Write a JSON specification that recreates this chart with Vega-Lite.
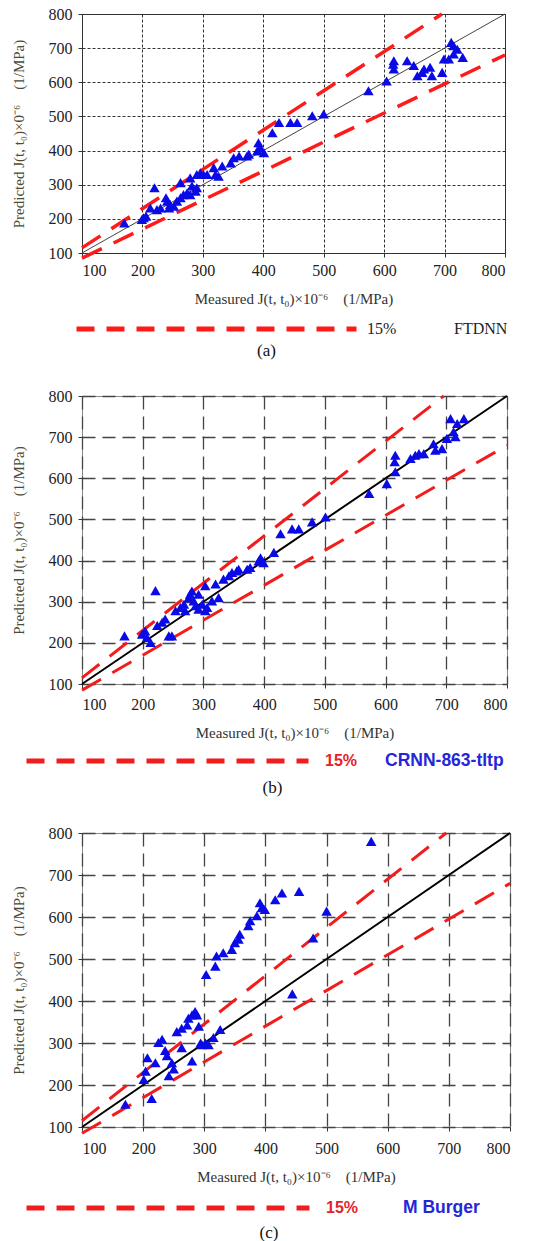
{
  "$schema": "https://vega.github.io/schema/vega-lite/v6.json",
  "background": "white",
  "padding": {"left": 10, "top": 5, "right": 5, "bottom": 5},
  "spacing": 27,
  "resolve": {"scale": {"color": "independent", "x": "independent", "y": "independent"}, "legend": {"color": "independent"}},
  "datasets": {
    "identity": [{"x": 100, "y": 100}, {"x": 800, "y": 800}],
    "band": [
      {"x": 100, "y": 115, "band": "upper", "label": "15%"},
      {"x": 695.65, "y": 800, "band": "upper", "label": "15%"},
      {"x": 100, "y": 85, "band": "lower", "label": "15%"},
      {"x": 800, "y": 680, "band": "lower", "label": "15%"}
    ],
    "a": [
      {"x": 170, "y": 188}, {"x": 199, "y": 198}, {"x": 202, "y": 203}, {"x": 206, "y": 208},
      {"x": 213, "y": 232}, {"x": 220, "y": 291}, {"x": 224, "y": 227}, {"x": 230, "y": 232},
      {"x": 239, "y": 262}, {"x": 241, "y": 252}, {"x": 246, "y": 242}, {"x": 252, "y": 237},
      {"x": 244, "y": 232}, {"x": 257, "y": 252}, {"x": 263, "y": 262}, {"x": 263, "y": 306},
      {"x": 268, "y": 271}, {"x": 274, "y": 276}, {"x": 279, "y": 271}, {"x": 282, "y": 296},
      {"x": 279, "y": 320}, {"x": 290, "y": 330}, {"x": 296, "y": 335}, {"x": 290, "y": 291},
      {"x": 288, "y": 281}, {"x": 301, "y": 330}, {"x": 307, "y": 330}, {"x": 318, "y": 350},
      {"x": 321, "y": 330}, {"x": 326, "y": 325}, {"x": 332, "y": 355}, {"x": 346, "y": 364},
      {"x": 351, "y": 379}, {"x": 360, "y": 384}, {"x": 373, "y": 384}, {"x": 376, "y": 389},
      {"x": 390, "y": 399}, {"x": 392, "y": 423}, {"x": 395, "y": 408}, {"x": 401, "y": 394},
      {"x": 415, "y": 452}, {"x": 426, "y": 482}, {"x": 445, "y": 482}, {"x": 456, "y": 482},
      {"x": 481, "y": 502}, {"x": 500, "y": 507}, {"x": 574, "y": 575}, {"x": 604, "y": 604},
      {"x": 616, "y": 663}, {"x": 616, "y": 639}, {"x": 615, "y": 653}, {"x": 638, "y": 663},
      {"x": 649, "y": 649}, {"x": 655, "y": 619}, {"x": 663, "y": 629}, {"x": 666, "y": 639},
      {"x": 676, "y": 644}, {"x": 679, "y": 619}, {"x": 696, "y": 629}, {"x": 699, "y": 668},
      {"x": 707, "y": 668}, {"x": 711, "y": 717}, {"x": 715, "y": 707}, {"x": 715, "y": 683},
      {"x": 721, "y": 697}, {"x": 730, "y": 673}
    ],
    "b": [
      {"x": 170, "y": 217}, {"x": 199, "y": 221}, {"x": 204, "y": 229}, {"x": 207, "y": 213},
      {"x": 213, "y": 201}, {"x": 221, "y": 327}, {"x": 224, "y": 242}, {"x": 232, "y": 250},
      {"x": 237, "y": 258}, {"x": 243, "y": 217}, {"x": 248, "y": 217}, {"x": 254, "y": 278},
      {"x": 262, "y": 286}, {"x": 268, "y": 294}, {"x": 270, "y": 278}, {"x": 276, "y": 310},
      {"x": 278, "y": 318}, {"x": 281, "y": 326}, {"x": 284, "y": 302}, {"x": 287, "y": 290},
      {"x": 292, "y": 318}, {"x": 292, "y": 282}, {"x": 298, "y": 294}, {"x": 303, "y": 278},
      {"x": 306, "y": 286}, {"x": 303, "y": 339}, {"x": 314, "y": 302}, {"x": 320, "y": 343},
      {"x": 325, "y": 310}, {"x": 333, "y": 355}, {"x": 342, "y": 363}, {"x": 347, "y": 371},
      {"x": 355, "y": 375}, {"x": 358, "y": 379}, {"x": 372, "y": 379}, {"x": 377, "y": 383},
      {"x": 391, "y": 399}, {"x": 394, "y": 407}, {"x": 399, "y": 395}, {"x": 416, "y": 420},
      {"x": 427, "y": 465}, {"x": 446, "y": 477}, {"x": 457, "y": 477}, {"x": 479, "y": 494},
      {"x": 501, "y": 506}, {"x": 573, "y": 563}, {"x": 602, "y": 587}, {"x": 616, "y": 656},
      {"x": 615, "y": 640}, {"x": 616, "y": 616}, {"x": 641, "y": 648}, {"x": 649, "y": 656},
      {"x": 655, "y": 660}, {"x": 663, "y": 660}, {"x": 679, "y": 684}, {"x": 682, "y": 668},
      {"x": 693, "y": 672}, {"x": 701, "y": 697}, {"x": 707, "y": 745}, {"x": 712, "y": 713},
      {"x": 715, "y": 701}, {"x": 718, "y": 733}, {"x": 729, "y": 745}
    ],
    "c": [
      {"x": 171, "y": 154}, {"x": 201, "y": 213}, {"x": 204, "y": 233}, {"x": 207, "y": 265},
      {"x": 214, "y": 168}, {"x": 220, "y": 253}, {"x": 225, "y": 301}, {"x": 231, "y": 309},
      {"x": 239, "y": 270}, {"x": 236, "y": 282}, {"x": 242, "y": 222}, {"x": 250, "y": 238},
      {"x": 247, "y": 253}, {"x": 255, "y": 327}, {"x": 263, "y": 335}, {"x": 263, "y": 289},
      {"x": 272, "y": 343}, {"x": 274, "y": 359}, {"x": 280, "y": 367}, {"x": 285, "y": 375},
      {"x": 288, "y": 367}, {"x": 280, "y": 257}, {"x": 291, "y": 340}, {"x": 294, "y": 300},
      {"x": 296, "y": 296}, {"x": 302, "y": 300}, {"x": 307, "y": 296}, {"x": 315, "y": 313},
      {"x": 326, "y": 332}, {"x": 303, "y": 463}, {"x": 318, "y": 483}, {"x": 320, "y": 507},
      {"x": 331, "y": 515}, {"x": 345, "y": 523}, {"x": 350, "y": 539}, {"x": 356, "y": 547},
      {"x": 358, "y": 559}, {"x": 372, "y": 579}, {"x": 375, "y": 591}, {"x": 386, "y": 603},
      {"x": 391, "y": 634}, {"x": 394, "y": 622}, {"x": 399, "y": 618}, {"x": 416, "y": 641},
      {"x": 427, "y": 657}, {"x": 444, "y": 417}, {"x": 455, "y": 661}, {"x": 478, "y": 550},
      {"x": 500, "y": 614}, {"x": 573, "y": 780}
    ]
  },
  "config": {
    "font": "Liberation Serif",
    "axis": {
      "labelFont": "Liberation Serif", "labelFontSize": 16, "labelColor": "#222",
      "titleFont": "Liberation Serif", "titleFontSize": 15, "titleFontWeight": "normal",
      "domain": false, "tickColor": "#333", "tickSize": 4,
      "gridOpacity": 1
    },
    "title": {"font": "Liberation Serif", "fontSize": 17, "fontWeight": "normal", "color": "#111"}
  },
  "vconcat": [
    {
      "width": 423, "height": 239,
      "title": {"text": "(a)", "orient": "bottom", "dx": -27, "offset": 6},
      "view": {"stroke": "#333", "strokeWidth": 1},
      "encoding": {
        "x": {"field": "x", "type": "quantitative",
          "scale": {"domain": [100, 800], "nice": false, "zero": false},
          "axis": {"values": [100, 200, 300, 400, 500, 600, 700, 800], "grid": true, "gridColor": "#333", "gridDash": [3, 2], "gridWidth": 1,
            "labelPadding": 5,
            "title": "Measured J(t, t₀)×10⁻⁶\u00a0\u00a0\u00a0\u00a0(1/MPa)", "titleColor": "#333", "titlePadding": 13}},
        "y": {"field": "y", "type": "quantitative",
          "scale": {"domain": [100, 800], "nice": false, "zero": false},
          "axis": {"values": [100, 200, 300, 400, 500, 600, 700, 800], "grid": true, "gridColor": "#333", "gridDash": [3, 2], "gridWidth": 1,
            "labelPadding": 6,
            "title": "Predicted J(t, t₀)×0⁻⁶\u00a0\u00a0\u00a0\u00a0(1/MPa)", "titleColor": "#4d4a35", "titlePadding": 22}}
      },
      "layer": [
        {"data": {"name": "identity"}, "mark": {"type": "line", "color": "#444", "strokeWidth": 1}, "encoding": {}},
        {"data": {"name": "band"}, "mark": {"type": "line", "strokeWidth": 3.5, "strokeDash": [22, 13]},
          "encoding": {
            "detail": {"field": "band"},
            "color": {"field": "label", "type": "nominal", "scale": {"domain": ["15%"], "range": ["#ff1a1a"]},
              "legend": {"orient": "none", "legendX": -8, "legendY": 307, "title": "FTDNN", "titleOrient": "right", "direction": "horizontal",
                "symbolType": "stroke", "symbolSize": 78400, "symbolStrokeWidth": 5, "symbolDash": [18, 12], "clipHeight": 16,
                "labelFont": "Liberation Serif", "labelFontSize": 16, "labelFontWeight": "normal", "labelColor": "#222", "labelOffset": 8,
                "titleFont": "Liberation Serif", "titleFontSize": 16, "titleFontWeight": "normal", "titleColor": "#222", "titlePadding": 58, "titleBaseline": "middle"}}
          }},
        {"data": {"name": "a"}, "mark": {"type": "point", "shape": "triangle-up", "filled": true, "size": 110, "color": "#0a0ae6", "opacity": 1}, "encoding": {}}
      ]
    },
    {
      "width": 425, "height": 288,
      "title": {"text": "(b)", "orient": "bottom", "dx": -22, "offset": 10},
      "view": {"stroke": "#888", "strokeWidth": 1},
      "encoding": {
        "x": {"field": "x", "type": "quantitative",
          "scale": {"domain": [100, 800], "nice": false, "zero": false},
          "axis": {"values": [100, 200, 300, 400, 500, 600, 700, 800], "grid": true, "gridColor": "#444", "gridDash": [13, 7], "gridWidth": 1.3,
            "labelPadding": 8,
            "title": "Measured J(t, t₀)×10⁻⁶\u00a0\u00a0\u00a0\u00a0(1/MPa)", "titleColor": "#333", "titlePadding": 13}},
        "y": {"field": "y", "type": "quantitative",
          "scale": {"domain": [100, 800], "nice": false, "zero": false},
          "axis": {"values": [100, 200, 300, 400, 500, 600, 700, 800], "grid": true, "gridColor": "#444", "gridDash": [13, 7], "gridWidth": 1.3,
            "labelPadding": 6,
            "title": "Predicted J(t, t₀)×0⁻⁶\u00a0\u00a0\u00a0\u00a0(1/MPa)", "titleColor": "#4d4a35", "titlePadding": 22}}
      },
      "layer": [
        {"data": {"name": "identity"}, "mark": {"type": "line", "color": "#000", "strokeWidth": 2}, "encoding": {}},
        {"data": {"name": "band"}, "mark": {"type": "line", "strokeWidth": 3, "strokeDash": [22, 13]},
          "encoding": {
            "detail": {"field": "band"},
            "color": {"field": "label", "type": "nominal", "scale": {"domain": ["15%"], "range": ["#f21c1c"]},
              "legend": {"orient": "none", "legendX": -58, "legendY": 357, "title": "CRNN-863-tltp", "titleOrient": "right", "direction": "horizontal",
                "symbolType": "stroke", "symbolSize": 79524, "symbolStrokeWidth": 5, "symbolDash": [18, 12], "clipHeight": 16,
                "labelFont": "Liberation Sans", "labelFontSize": 16, "labelFontWeight": "bold", "labelColor": "#e52228", "labelOffset": 14,
                "titleFont": "Liberation Sans", "titleFontSize": 17.5, "titleFontWeight": "bold", "titleColor": "#2626d9", "titlePadding": 28, "titleBaseline": "middle"}}
          }},
        {"data": {"name": "b"}, "mark": {"type": "point", "shape": "triangle-up", "filled": true, "size": 110, "color": "#0a0ae6", "opacity": 1}, "encoding": {}}
      ]
    },
    {
      "width": 428, "height": 294,
      "title": {"text": "(c)", "orient": "bottom", "dx": -27, "offset": 8},
      "view": {"stroke": "#888", "strokeWidth": 1},
      "encoding": {
        "x": {"field": "x", "type": "quantitative",
          "scale": {"domain": [100, 800], "nice": false, "zero": false},
          "axis": {"values": [100, 200, 300, 400, 500, 600, 700, 800], "grid": true, "gridColor": "#444", "gridDash": [13, 7], "gridWidth": 1.3,
            "labelPadding": 9,
            "title": "Measured J(t, t₀)×10⁻⁶\u00a0\u00a0\u00a0\u00a0(1/MPa)", "titleColor": "#333", "titlePadding": 13}},
        "y": {"field": "y", "type": "quantitative",
          "scale": {"domain": [100, 800], "nice": false, "zero": false},
          "axis": {"values": [100, 200, 300, 400, 500, 600, 700, 800], "grid": true, "gridColor": "#444", "gridDash": [13, 7], "gridWidth": 1.3,
            "labelPadding": 6,
            "title": "Predicted J(t, t₀)×0⁻⁶\u00a0\u00a0\u00a0\u00a0(1/MPa)", "titleColor": "#4d4a35", "titlePadding": 22}}
      },
      "layer": [
        {"data": {"name": "identity"}, "mark": {"type": "line", "color": "#000", "strokeWidth": 2}, "encoding": {}},
        {"data": {"name": "band"}, "mark": {"type": "line", "strokeWidth": 3, "strokeDash": [22, 13]},
          "encoding": {
            "detail": {"field": "band"},
            "color": {"field": "label", "type": "nominal", "scale": {"domain": ["15%"], "range": ["#f21c1c"]},
              "legend": {"orient": "none", "legendX": -58, "legendY": 367, "title": "M Burger", "titleOrient": "right", "direction": "horizontal",
                "symbolType": "stroke", "symbolSize": 80089, "symbolStrokeWidth": 5, "symbolDash": [18, 12], "clipHeight": 16,
                "labelFont": "Liberation Sans", "labelFontSize": 16, "labelFontWeight": "bold", "labelColor": "#e52228", "labelOffset": 14,
                "titleFont": "Liberation Sans", "titleFontSize": 17.5, "titleFontWeight": "bold", "titleColor": "#2626d9", "titlePadding": 45, "titleBaseline": "middle"}}
          }},
        {"data": {"name": "c"}, "mark": {"type": "point", "shape": "triangle-up", "filled": true, "size": 110, "color": "#0a0ae6", "opacity": 1}, "encoding": {}}
      ]
    }
  ]
}
